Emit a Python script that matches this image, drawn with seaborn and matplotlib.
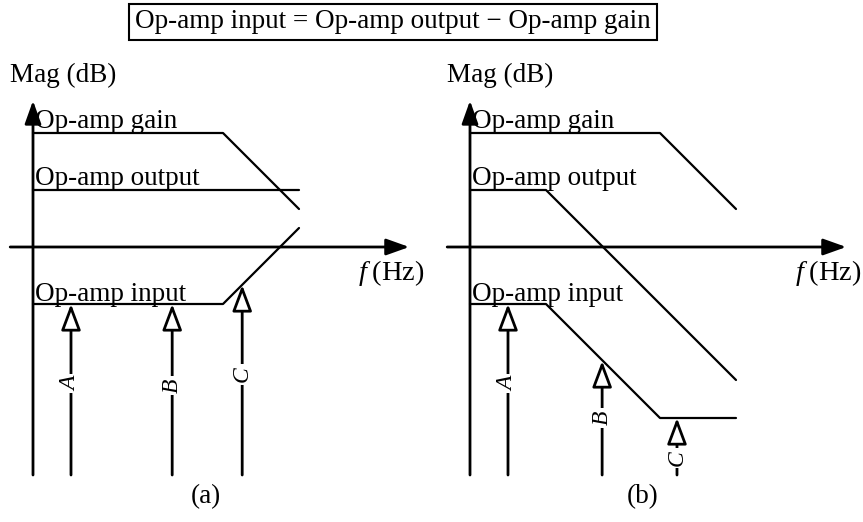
import numpy as np
import pandas as pd
import seaborn as sns
import matplotlib
matplotlib.use("Agg")
import matplotlib.pyplot as plt

# ---------------- data (frequency in Hz, magnitude in dB) ----------------
gain_a_f = [1, 1e5, 1e7]
gain_a_db = [60, 60, 20]
out_a_f = [1, 1e7]
out_a_db = [30, 30]
in_a_f = [1, 1e5, 1e7]
in_a_db = [-30, -30, 10]

gain_b_f = [1, 1e5, 1e7]
gain_b_db = [60, 60, 20]
out_b_f = [1, 1e2, 1e7]
out_b_db = [30, 30, -70]
in_b_f = [1, 1e2, 1e5, 1e7]
in_b_db = [-30, -30, -90, -90]

arrow_labels = ["A", "B", "C"]
arrows_a_f = [10, 4.6e3, 3.2e5]
arrows_a_db = [-30, -30, -20]
arrows_b_f = [10, 3.0e3, 2.8e5]
arrows_b_db = [-30, -60, -90]

curve_names = ["Op-amp gain", "Op-amp output", "Op-amp input"]
title_text = "Op-amp input = Op-amp output \u2212 Op-amp gain"
panel_names = ["(a)", "(b)"]

# ---------------- style ----------------
sns.set_style("white")
plt.rcParams["font.family"] = ["Liberation Serif", "DejaVu Serif"]
plt.rcParams["mathtext.fontset"] = "custom"
plt.rcParams["mathtext.it"] = "Liberation Serif:italic"
plt.rcParams["mathtext.rm"] = "Liberation Serif"
plt.rcParams["text.color"] = "black"

W, H = 863, 522
PX_DEC, PX_DB = 38.0, 1.9
FS = 19.5

fig = plt.figure(figsize=(W / 100, H / 100), dpi=100)


def make_ax(px0, px1, ox, oy):
    ax = fig.add_axes([px0 / W, 0, (px1 - px0) / W, 1])
    ax.set_xscale("log")
    ax.set_xlim(10 ** ((px0 - ox) / PX_DEC), 10 ** ((px1 - ox) / PX_DEC))
    ax.set_ylim((oy - H) / PX_DB, oy / PX_DB)
    ax.axis("off")
    return ax


def draw_panel(ax, curves, arr_f, arr_db, label_db, name):
    # axes with arrow heads
    ax.annotate("", xy=(10 ** 9.9, 0), xytext=(10 ** -0.6, 0),
                arrowprops=dict(arrowstyle="-|>,head_length=0.7,head_width=0.25",
                                fc="black", ec="black", lw=2,
                                mutation_scale=20, shrinkA=0, shrinkB=0))
    ax.annotate("", xy=(1, 77), xytext=(1, -120),
                arrowprops=dict(arrowstyle="-|>,head_length=0.7,head_width=0.25",
                                fc="black", ec="black", lw=2,
                                mutation_scale=20, shrinkA=0, shrinkB=0))
    for (f, db) in curves:
        df = pd.DataFrame({"f": f, "db": db})
        sns.lineplot(data=df, x="f", y="db", ax=ax, color="black", lw=1.6,
                     estimator=None, sort=False)
    ax.set_xscale("log")
    # labels for the curves
    ax.text(1.12, 62.5, curve_names[0], fontsize=FS, va="baseline", ha="left")
    ax.text(1.12, 32.5, curve_names[1], fontsize=FS, va="baseline", ha="left")
    ax.text(1.12, -28.5, curve_names[2], fontsize=FS, va="baseline", ha="left")
    ax.text(10 ** -0.6, 90.5, "Mag (dB)", fontsize=FS, va="center", ha="left")
    ax.text(10 ** 8.55, -13.5, r"$f\;$(Hz)", fontsize=20.5, va="center", ha="left")
    ax.text(10 ** 4.55, -131.5, name, fontsize=FS, va="center", ha="center")
    # frequency markers
    for lab, f, db, ldb in zip(arrow_labels, arr_f, arr_db, label_db):
        ax.annotate("", xy=(f, db), xytext=(f, -120),
                    arrowprops=dict(arrowstyle="-|>,head_length=0.8,head_width=0.3",
                                    fc="white", ec="black", lw=2,
                                    mutation_scale=20, shrinkA=0, shrinkB=0))
        ax.text(f, ldb, lab, fontsize=17, style="italic", rotation=90,
                ha="center", va="center",
                bbox=dict(boxstyle="square,pad=0.1", fc="white", ec="none"))


ax_a = make_ax(0, 430, 33, 247)
draw_panel(ax_a, [(gain_a_f, gain_a_db), (out_a_f, out_a_db), (in_a_f, in_a_db)],
           arrows_a_f, arrows_a_db, [-72, -73, -67], panel_names[0])

ax_b = make_ax(430, 863, 470, 247)
draw_panel(ax_b, [(gain_b_f, gain_b_db), (out_b_f, out_b_db), (in_b_f, in_b_db)],
           arrows_b_f, arrows_b_db, [-72, -90, -111], panel_names[1])

fig.text(393 / W, 1 - 22 / H, title_text, fontsize=FS, ha="center", va="center",
         bbox=dict(boxstyle="square,pad=0.22", fc="white", ec="black", lw=1.5))

fig.savefig("out.png", dpi=100)
